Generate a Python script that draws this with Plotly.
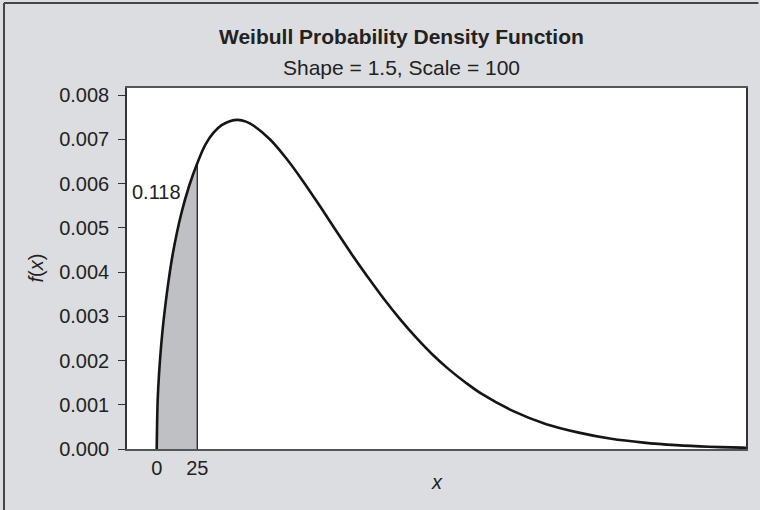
import plotly.graph_objects as go

# Values (x, f(x))
x_vals = [0, 0.5, 1, 2, 3.5, 5, 7.5, 10, 15, 20, 25, 30, 35, 40, 45, 50, 55, 60, 70, 80, 90,
          100, 110, 120, 130, 140, 150, 160, 170, 180, 190, 200, 220, 240, 260, 280, 300,
          320, 340, 360, 363]
f_vals = [0.0, 0.00100, 0.00142, 0.00200, 0.00265, 0.00315, 0.00385, 0.00443, 0.00530,
          0.00595, 0.00646, 0.00688, 0.00715, 0.00732, 0.00741, 0.00744, 0.00740,
          0.00730, 0.00699, 0.00656, 0.00606, 0.00552, 0.00496, 0.00441, 0.00389,
          0.00339, 0.00293, 0.00251, 0.00213, 0.00180, 0.00151, 0.00125, 0.00085,
          0.00056, 0.00037, 0.00023, 0.000144, 0.0000876, 0.0000524, 0.0000308, 0.0000285]

shade_upper = 25
shade_label = "0.118"
y_ticks = [0.000, 0.001, 0.002, 0.003, 0.004, 0.005, 0.006, 0.007, 0.008]
x_ticks = [0, 25]
title_text = "Weibull Probability Density Function"
subtitle_text = "Shape = 1.5, Scale = 100"

shade_x = [x for x in x_vals if x <= shade_upper]
shade_y = [f_vals[i] for i, x in enumerate(x_vals) if x <= shade_upper]
edge_y = f_vals[x_vals.index(shade_upper)]

FONT = "Liberation Sans, Arial, sans-serif"
TXT = "#222222"

fig = go.Figure()
fig.add_trace(go.Scatter(x=shade_x, y=shade_y, mode="lines", fill="tozeroy",
                         fillcolor="#bfc0c4", line=dict(width=0, shape="spline"),
                         hoverinfo="skip", showlegend=False))
fig.add_trace(go.Scatter(x=[shade_upper, shade_upper], y=[0, edge_y], mode="lines",
                         line=dict(color="#222222", width=1.3), showlegend=False))
fig.add_trace(go.Scatter(x=x_vals, y=f_vals, mode="lines",
                         line=dict(color="#151515", width=2.6, shape="spline"),
                         showlegend=False))

fig.add_annotation(x=0, y=0.0058, xref="x", yref="y", text=shade_label, showarrow=False,
                   xanchor="center", yanchor="middle",
                   font=dict(family=FONT, size=20, color=TXT))

# titles
fig.add_annotation(x=0.443, y=1.1413, xref="paper", yref="paper", text="<b>" + title_text + "</b>",
                   showarrow=False, xanchor="center", yanchor="middle",
                   font=dict(family=FONT, size=21, color=TXT))
fig.add_annotation(x=0.443, y=1.058, xref="paper", yref="paper", text=subtitle_text,
                   showarrow=False, xanchor="center", yanchor="middle",
                   font=dict(family=FONT, size=21, color=TXT))
# axis titles
fig.add_annotation(x=-0.1486, y=0.5, xref="paper", yref="paper", text="<i>f</i>(<i>x</i>)",
                   showarrow=False, textangle=-90, xanchor="center", yanchor="middle",
                   font=dict(family=FONT, size=20, color=TXT))
fig.add_annotation(x=0.5, y=-0.0914, xref="paper", yref="paper", text="<i>x</i>",
                   showarrow=False, xanchor="center", yanchor="middle",
                   font=dict(family=FONT, size=20, color=TXT))

# outer frame (only left and top edges fall inside the picture)
fig.add_shape(type="line", xref="paper", yref="paper", x0=-0.1987, y0=-0.17, x1=-0.1987, y1=1.2355,
              line=dict(color="#444444", width=2))
fig.add_shape(type="line", xref="paper", yref="paper", x0=-0.1987, y0=1.2355, x1=1.02, y1=1.2355,
              line=dict(color="#444444", width=2))

fig.update_layout(
    width=760, height=510,
    margin=dict(l=127, r=14, t=88, b=61),
    paper_bgcolor="#dcdde0",
    plot_bgcolor="#ffffff",
    font=dict(family=FONT, size=20, color=TXT),
    showlegend=False,
    xaxis=dict(range=[-18.3, 363], tickvals=x_ticks, ticktext=[str(v) for v in x_ticks],
               ticks="", showgrid=False, zeroline=False, showline=True, mirror=True,
               linecolor="#555555", linewidth=2, tickfont=dict(size=20, family=FONT, color=TXT)),
    yaxis=dict(range=[0, 0.00816], tickvals=y_ticks, tickformat=".3f", ticks="outside",
               ticklen=7, tickwidth=1.3, tickcolor="#333333", ticklabelstandoff=5,
               showgrid=False, zeroline=False, showline=True, mirror=True,
               linecolor="#333333", linewidth=1.5, tickfont=dict(size=20, family=FONT, color=TXT)),
)

fig.write_html("out.html")
